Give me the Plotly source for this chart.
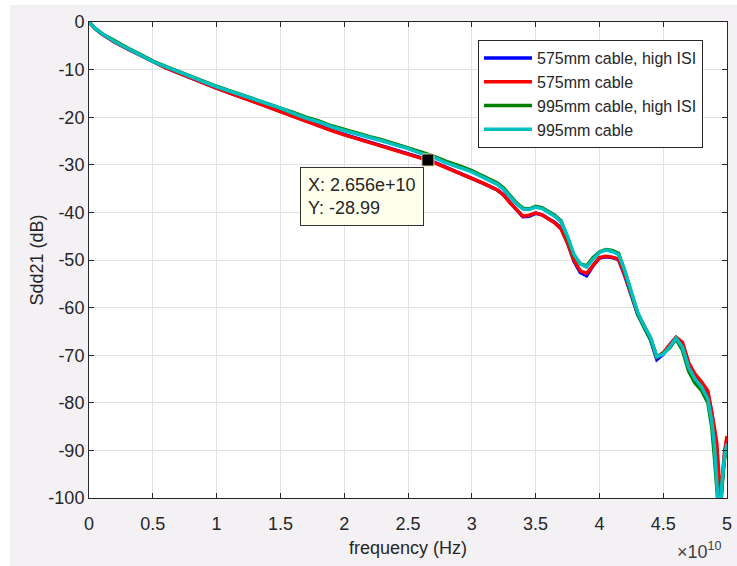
import plotly.graph_objects as go

# frequency in units of 1e10 Hz
freq_e10 = [0, 0.05, 0.1, 0.2, 0.3, 0.4, 0.5, 0.6, 0.7, 0.8, 0.9, 1.0,
            1.1, 1.2, 1.3, 1.4, 1.5, 1.6, 1.7, 1.8, 1.9, 2.0, 2.1, 2.2,
            2.3, 2.4, 2.5, 2.6, 2.7, 2.8, 2.9, 3.0, 3.1, 3.2, 3.25, 3.3,
            3.35, 3.4, 3.45, 3.5, 3.55, 3.6, 3.65, 3.7, 3.75, 3.8, 3.85,
            3.9, 3.95, 4.0, 4.05, 4.1, 4.15, 4.2, 4.25, 4.3, 4.35, 4.4,
            4.45, 4.5, 4.55, 4.6, 4.65, 4.7, 4.75, 4.8, 4.85, 4.88, 4.9,
            4.92, 4.93, 4.94, 4.95, 4.96, 4.98, 5.0]

sdd21_575_high_isi = [0, -1.4, -2.5, -4.2, -5.6, -7.0, -8.4, -9.6, -10.7, -11.8, -12.8, -13.9,
                      -14.9, -15.8, -16.8, -17.8, -18.8, -19.8, -20.8, -21.7, -22.7, -23.6, -24.4, -25.3,
                      -26.0, -26.8, -27.7, -28.5, -29.4, -30.5, -31.6, -32.8, -34.0, -35.3, -36.3, -37.9,
                      -39.5, -40.9, -40.8, -40.2, -40.5, -41.2, -42.1, -43.3, -46.3, -50.2, -52.6,
                      -53.3, -51.2, -49.6, -49.3, -49.5, -49.9, -53.4, -57.4, -61.4, -64.0, -66.7,
                      -70.9, -69.8, -67.9, -66.3, -67.4, -71.9, -74.4, -75.8, -78.0, -82.0, -86.0,
                      -90.0, -94.5, -99.5, -101.0, -97.5, -91.0, -87.5]

sdd21_575 = [0, -1.4, -2.5, -4.2, -5.6, -7.0, -8.4, -9.6, -10.7, -11.8, -12.9, -13.9,
             -14.9, -15.9, -16.9, -17.9, -18.9, -19.9, -20.9, -21.8, -22.8, -23.7, -24.5, -25.4,
             -26.1, -26.9, -27.8, -28.6, -29.5, -30.6, -31.7, -32.9, -34.0, -35.3, -36.4, -38.0,
             -39.5, -40.8, -40.6, -40.1, -40.5, -41.3, -42.2, -43.5, -46.5, -50.0, -52.3,
             -52.8, -51.0, -49.5, -49.2, -49.4, -49.8, -53.2, -57.2, -61.3, -63.8, -66.4,
             -70.4, -69.5, -67.8, -66.2, -67.3, -71.6, -74.0, -75.6, -77.5, -81.5, -85.0,
             -88.5, -92.5, -97.5, -101.0, -97.0, -90.5, -87.0]

sdd21_995_high_isi = [0, -1.4, -2.4, -4.0, -5.4, -6.8, -8.2, -9.3, -10.4, -11.5, -12.5, -13.5,
                      -14.4, -15.3, -16.2, -17.1, -18.0, -19.0, -20.0, -20.8, -21.8, -22.6, -23.3, -24.1,
                      -24.8, -25.6, -26.4, -27.3, -28.2, -29.3, -30.2, -31.2, -32.5, -33.8, -34.9, -36.5,
                      -38.0, -39.1, -39.3, -38.7, -39.0, -39.8, -40.6, -41.8, -45.2, -49.0, -50.8,
                      -51.2, -49.5, -48.3, -47.8, -48.0, -48.6, -52.4, -56.9, -61.3, -64.2, -66.7,
                      -70.4, -69.6, -68.5, -66.6, -68.9, -73.4, -75.9, -77.4, -80.0, -85.0, -91.0,
                      -99.5, -105.0, -105.0, -103.0, -98.0, -92.0, -89.0]

sdd21_995 = [0, -1.4, -2.4, -4.1, -5.5, -6.9, -8.3, -9.4, -10.5, -11.6, -12.6, -13.6,
             -14.5, -15.4, -16.3, -17.2, -18.1, -19.2, -20.2, -21.0, -22.0, -22.8, -23.5, -24.3,
             -25.0, -25.8, -26.6, -27.6, -28.4, -29.6, -30.5, -31.5, -32.8, -34.1, -35.2, -36.8,
             -38.2, -39.3, -39.4, -38.9, -39.2, -40.0, -40.8, -42.0, -45.0, -48.8, -50.8,
             -51.5, -49.8, -48.4, -47.9, -48.2, -48.8, -52.3, -56.6, -61.0, -63.8, -66.2,
             -70.3, -69.8, -68.3, -66.4, -68.3, -72.6, -75.0, -76.6, -79.2, -83.8, -88.5,
             -97.5, -104.0, -105.0, -102.0, -97.0, -91.5, -88.5]

series_names = ["575mm cable, high ISI", "575mm cable", "995mm cable, high ISI", "995mm cable"]
series_colors = ["#0000ff", "#ff0000", "#008000", "#00bfbf"]
series_values = [sdd21_575_high_isi, sdd21_575, sdd21_995_high_isi, sdd21_995]

x_tick_values_e10 = [0, 0.5, 1, 1.5, 2, 2.5, 3, 3.5, 4, 4.5, 5]
x_tick_labels = ["0", "0.5", "1", "1.5", "2", "2.5", "3", "3.5", "4", "4.5", "5"]
y_tick_values = [0, -10, -20, -30, -40, -50, -60, -70, -80, -90, -100]
y_tick_labels = ["0", "-10", "-20", "-30", "-40", "-50", "-60", "-70", "-80", "-90", "-100"]

tip_x = 2.656e10
tip_y = -28.99

FONT = "Liberation Sans, Arial, Helvetica, sans-serif"
TXT = "#262626"
FS = 18

freq_hz = [f * 1e10 for f in freq_e10]

fig = go.Figure()
for name, color, vals in zip(series_names, series_colors, series_values):
    assert len(vals) == len(freq_hz), name
    fig.add_trace(go.Scatter(x=freq_hz, y=vals, mode="lines", name=name,
                             line=dict(color=color, width=3.5)))

# data tip marker
fig.add_trace(go.Scatter(x=[tip_x], y=[tip_y], mode="markers", showlegend=False,
                         marker=dict(symbol="square", size=12, color="black",
                                     line=dict(color="#d8d0a8", width=1))))

fig.add_annotation(x=1.655e10, y=-30.45, xref="x", yref="y", xanchor="left", yanchor="top",
                   text=f"X: {tip_x:.4g}" + "<br>" + f"Y: {tip_y:.2f}",
                   align="left", showarrow=False, bgcolor="#ffffee", bordercolor="#333333",
                   borderwidth=1, borderpad=7, font=dict(family=FONT, size=FS, color=TXT))

fig.add_annotation(x=0.995, y=-0.082, xref="paper", yref="paper", xanchor="right", yanchor="top",
                   text="×10<sup>10</sup>", showarrow=False,
                   font=dict(family=FONT, size=FS, color="#404040"))

# white strips at top/left edges of the screenshot
fig.add_shape(type="rect", xref="paper", yref="paper", x0=-0.15, x1=-0.1238, y0=-0.2, y1=1.1,
              fillcolor="white", line=dict(width=0), layer="below")
fig.add_shape(type="rect", xref="paper", yref="paper", x0=-0.15, x1=1.1, y0=1.0357, y1=1.1,
              fillcolor="white", line=dict(width=0), layer="below")

axis_common = dict(showline=True, linecolor=TXT, linewidth=1, mirror="ticks",
                   ticks="inside", ticklen=5, tickcolor=TXT, showgrid=True,
                   gridcolor="#e2e2e2", gridwidth=1, zeroline=False,
                   tickfont=dict(family=FONT, size=FS, color=TXT))

fig.update_xaxes(range=[0, 5e10], tickvals=[v * 1e10 for v in x_tick_values_e10],
                 ticktext=x_tick_labels, ticklabelstandoff=9,
                 title=dict(text="frequency (Hz)", font=dict(family=FONT, size=FS, color=TXT), standoff=8),
                 **axis_common)
fig.update_yaxes(range=[-100, 0], tickvals=y_tick_values, ticktext=y_tick_labels,
                 title=dict(text="Sdd21 (dB)", font=dict(family=FONT, size=FS, color=TXT), standoff=0),
                 **axis_common)

fig.update_layout(width=737, height=566, margin=dict(l=89, r=10, t=22, b=68, autoexpand=False),
                  paper_bgcolor="#f4f1f5", plot_bgcolor="white",
                  font=dict(family=FONT, color=TXT),
                  legend=dict(x=0.6097, y=0.9622, xanchor="left", yanchor="top",
                              bgcolor="white", bordercolor=TXT, borderwidth=1,
                              font=dict(family=FONT, size=16, color=TXT),
                              itemwidth=48, tracegroupgap=0),
                  showlegend=True)

fig.write_html("out.html", config={"displayModeBar": False},
               post_script="document.body.style.margin='0';")
